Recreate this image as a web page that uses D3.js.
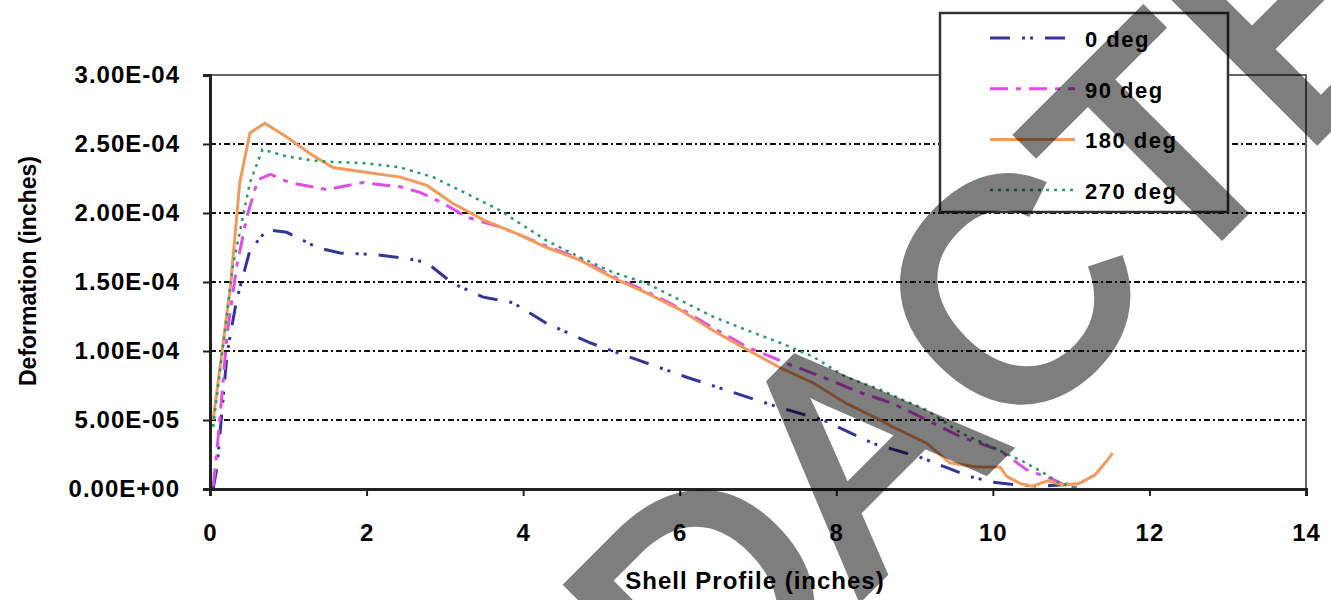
<!DOCTYPE html>
<html>
<head>
<meta charset="utf-8">
<script src="https://cdn.jsdelivr.net/npm/d3@7/dist/d3.min.js"></script>
<style>
  body { margin: 0; background: #fff; }
  text { font-family: "Liberation Sans", Arial, sans-serif; }
</style>
</head>
<body>
<script>
// shell profile position (inches) vs deformation (inches), one array per angle
var deg0 = [[0.04,0.0],[0.09,0.16e-4],[0.22,0.99e-4],[0.34,1.37e-4],[0.51,1.73e-4],[0.73,1.88e-4],[0.98,1.86e-4],
  [1.37,1.75e-4],[1.66,1.71e-4],[2.08,1.70e-4],[2.52,1.67e-4],[2.77,1.64e-4],[3.10,1.49e-4],[3.49,1.39e-4],
  [3.87,1.35e-4],[4.30,1.20e-4],[4.85,1.06e-4],[5.49,0.93e-4],[6.09,0.81e-4],[6.68,0.70e-4],[7.28,0.59e-4],
  [7.83,0.50e-4],[8.47,0.33e-4],[9.07,0.23e-4],[9.71,0.09e-4],[10.0,0.05e-4],[10.3,0.03e-4],[10.6,0.02e-4],
  [10.9,0.03e-4],[11.05,0.05e-4]];
var deg90 = [[0.04,0.02e-4],[0.09,0.28e-4],[0.22,1.13e-4],[0.34,1.61e-4],[0.47,1.97e-4],[0.61,2.24e-4],[0.77,2.28e-4],
  [1.02,2.22e-4],[1.49,2.17e-4],[1.95,2.22e-4],[2.43,2.19e-4],[2.68,2.15e-4],[2.98,2.07e-4],[3.28,1.97e-4],
  [3.70,1.90e-4],[4.30,1.76e-4],[4.72,1.67e-4],[5.15,1.54e-4],[5.58,1.43e-4],[6.00,1.31e-4],[6.42,1.17e-4],
  [6.86,1.03e-4],[7.37,0.91e-4],[7.83,0.81e-4],[8.30,0.70e-4],[8.72,0.62e-4],[9.16,0.50e-4],[9.58,0.38e-4],
  [10.09,0.28e-4],[10.43,0.14e-4],[10.77,0.07e-4],[10.98,0.01e-4],[11.17,0.02e-4]];
var deg180 = [[0.04,0.50e-4],[0.26,1.46e-4],[0.38,2.22e-4],[0.51,2.58e-4],[0.70,2.65e-4],[0.98,2.55e-4],[1.28,2.43e-4],
  [1.57,2.33e-4],[1.92,2.30e-4],[2.43,2.26e-4],[2.77,2.20e-4],[3.10,2.07e-4],[3.49,1.95e-4],[3.92,1.85e-4],
  [4.30,1.75e-4],[4.72,1.66e-4],[5.15,1.53e-4],[5.58,1.42e-4],[6.00,1.30e-4],[6.42,1.15e-4],[6.86,1.01e-4],
  [7.28,0.88e-4],[7.70,0.77e-4],[8.13,0.62e-4],[8.56,0.50e-4],[8.72,0.45e-4],[9.16,0.33e-4],[9.45,0.19e-4],
  [9.80,0.16e-4],[10.09,0.16e-4],[10.18,0.09e-4],[10.35,0.04e-4],[10.5,0.02e-4],[10.7,0.06e-4],[10.9,0.03e-4],
  [11.1,0.04e-4],[11.3,0.10e-4],[11.45,0.20e-4],[11.53,0.26e-4]];
var deg270 = [[0.04,0.45e-4],[0.29,1.61e-4],[0.51,2.22e-4],[0.67,2.46e-4],[0.98,2.41e-4],[1.32,2.38e-4],[1.57,2.37e-4],
  [2.00,2.36e-4],[2.43,2.33e-4],[2.85,2.26e-4],[3.28,2.14e-4],[3.70,2.02e-4],[4.30,1.80e-4],[4.72,1.68e-4],
  [5.15,1.57e-4],[5.58,1.49e-4],[6.00,1.37e-4],[6.42,1.25e-4],[6.86,1.15e-4],[7.28,1.06e-4],[7.70,0.96e-4],
  [8.13,0.81e-4],[8.56,0.72e-4],[9.16,0.57e-4],[9.58,0.41e-4],[10.00,0.30e-4],[10.35,0.21e-4],[10.64,0.12e-4],
  [10.86,0.04e-4],[11.05,0.01e-4]];

var seriesNames = ["0 deg", "90 deg", "180 deg", "270 deg"];
var xTicks = [0, 2, 4, 6, 8, 10, 12, 14];
var yTicks = [0, 5e-5, 1e-4, 1.5e-4, 2e-4, 2.5e-4, 3e-4];
var yTickLabels = ["0.00E+00", "5.00E-05", "1.00E-04", "1.50E-04", "2.00E-04", "2.50E-04", "3.00E-04"];

var width = 1331, height = 600;

var styles = [
  { color: "#34349a", dash: "20,12,3,5,3,12", w: 3 },
  { color: "#de4fe6", dash: "18,8,5,8", w: 3 },
  { color: "#f29a5e", dash: null, w: 3 },
  { color: "#2e9a6a", dash: "3,5", w: 2.5 }
];

var svg = d3.select("body").append("svg")
    .attr("width", width)
    .attr("height", height);

var xScale = d3.scaleLinear().domain([0, 14]).range([210, 1306]);
var yScale = d3.scaleLinear().domain([0, 3e-4]).range([489, 75]);

// dash-dot gridlines
svg.append("g").selectAll("line")
    .data(yTicks.slice(1, -1))
  .enter().append("line")
    .attr("x1", xScale(0)).attr("x2", xScale(14))
    .attr("y1", function(d) { return yScale(d); })
    .attr("y2", function(d) { return yScale(d); })
    .attr("stroke", "#111")
    .attr("stroke-width", 2)
    .attr("stroke-dasharray", "6,3,2,3");

// plot area border top / right
svg.append("path")
    .attr("d", "M" + xScale(0) + "," + yScale(3e-4) + "H" + xScale(14) + "V" + yScale(0))
    .attr("fill", "none")
    .attr("stroke", "#666")
    .attr("stroke-width", 2);

// lines
var line = d3.line()
    .x(function(d) { return xScale(d[0]); })
    .y(function(d) { return yScale(d[1]); });

var allSeries = [deg0, deg90, deg180, deg270];
svg.append("g").selectAll("path")
    .data(allSeries)
  .enter().append("path")
    .attr("d", line)
    .attr("fill", "none")
    .attr("stroke", function(d, i) { return styles[i].color; })
    .attr("stroke-width", function(d, i) { return styles[i].w; })
    .attr("stroke-dasharray", function(d, i) { return styles[i].dash; });

// axes
var yAxis = d3.axisLeft(yScale)
    .tickValues(yTicks)
    .tickFormat(function(d, i) { return yTickLabels[i]; })
    .tickSize(7)
    .tickPadding(23);

var xAxis = d3.axisBottom(xScale)
    .tickValues(xTicks)
    .tickSize(7)
    .tickPadding(28);

var gy = svg.append("g")
    .attr("transform", "translate(" + xScale(0) + ",0)")
    .call(yAxis);
var gx = svg.append("g")
    .attr("transform", "translate(0," + yScale(0) + ")")
    .call(xAxis);

[gx, gy].forEach(function(g) {
  g.select(".domain").attr("stroke", "#222").attr("stroke-width", 3);
  g.selectAll(".tick line").attr("stroke", "#222").attr("stroke-width", 2);
  g.selectAll(".tick text")
      .attr("fill", "#000")
      .style("font-size", "24px")
      .style("font-weight", "bold")
      .style("letter-spacing", "1px")
      .style("font-family", "'Liberation Sans', Arial, sans-serif");
});

// axis titles
svg.append("text")
    .attr("transform", "translate(36,271) rotate(-90)")
    .attr("text-anchor", "middle")
    .style("font-size", "23px")
    .style("font-weight", "bold")
    .text("Deformation (inches)");

svg.append("text")
    .attr("x", 755).attr("y", 589)
    .attr("text-anchor", "middle")
    .style("font-size", "24px")
    .style("font-weight", "bold")
    .style("letter-spacing", "1px")
    .text("Shell Profile (inches)");

// legend
var legend = svg.append("g");
legend.append("rect")
    .attr("x", 940).attr("y", 13)
    .attr("width", 288).attr("height", 199)
    .attr("fill", "#fff")
    .attr("stroke", "#333")
    .attr("stroke-width", 2.5);

var items = legend.selectAll(".item")
    .data(seriesNames)
  .enter().append("g")
    .attr("class", "item")
    .attr("transform", function(d, i) { return "translate(0," + (47 + i * 50.7) + ")"; });

items.append("line")
    .attr("x1", 990).attr("x2", 1075)
    .attr("y1", -9).attr("y2", -9)
    .attr("stroke", function(d, i) { return styles[i].color; })
    .attr("stroke-width", function(d, i) { return styles[i].w; })
    .attr("stroke-dasharray", function(d, i) { return styles[i].dash; });

items.append("text")
    .attr("x", 1085)
    .style("font-size", "22px")
    .style("font-weight", "bold")
    .style("letter-spacing", "1.5px")
    .text(function(d) { return d; });

// watermark across the chart
svg.append("text")
    .attr("transform", "translate(398,1058) rotate(-45)")
    .attr("fill", "#000")
    .attr("stroke", "#000")
    .attr("stroke-width", 10)
    .attr("opacity", 0.5)
    .style("font-size", "310px")
    .text("REDACTED");
</script>
</body>
</html>
